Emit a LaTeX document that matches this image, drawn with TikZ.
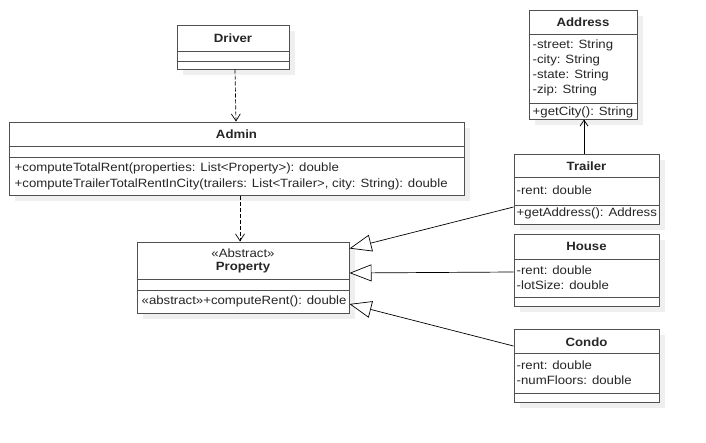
\documentclass[tikz,border=0pt]{standalone}
\usepackage{fontspec}
\setmainfont{Liberation Sans}[FakeStretch=1.1]
\usetikzlibrary{arrows.meta,calc,positioning,shadows}

\definecolor{umlline}{HTML}{505050}
\definecolor{umltext}{HTML}{262626}
\definecolor{umlshadow}{HTML}{EFEFEF}

\begin{document}
\begin{tikzpicture}[x=1pt,y=-1pt,
          every node/.style={font=\fontsize{12}{15}\selectfont,text=umltext},
          classbox/.style={draw=umlline,line width=1pt,rectangle,fill=white,inner sep=0pt,
            drop shadow={shadow xshift=6pt,shadow yshift=-6pt,fill=umlshadow,opacity=1}},
          title/.style={inner sep=0pt,font=\fontsize{12}{15}\selectfont\bfseries},
          members/.style={inner sep=0pt,anchor=north west,align=left},
          sep/.style={draw=umlline,line width=1pt},
          depend/.style={draw=black,line width=0.7pt,dash pattern=on 4pt off 2pt,-{Straight Barb[length=7pt,width=9pt]}},
          assoc/.style={draw=black,line width=0.7pt,-{Straight Barb[length=6pt,width=8pt]}},
          inherit/.style={draw=black,line width=0.7pt,-{Triangle[open,length=22pt,width=17pt,fill=white]}}]

  \useasboundingbox (0,0) rectangle (706,442);

  % classes
  \node[classbox,minimum width=112pt,minimum height=44pt] (driver) at (233,47) {};
  \node[classbox,minimum width=455pt,minimum height=73pt] (admin) at (236.5,158.5) {};
  \node[classbox,minimum width=212pt,minimum height=71pt] (property) at (243,277.5) {};
  \node[classbox,minimum width=108pt,minimum height=109pt] (address) at (583,64.5) {};
  \node[classbox,minimum width=145pt,minimum height=70pt] (trailer) at (586.5,189) {};
  \node[classbox,minimum width=145pt,minimum height=72pt] (house) at (586.5,270) {};
  \node[classbox,minimum width=145pt,minimum height=73pt] (condo) at (586.5,365.5) {};

  % compartments
  \draw[sep] (driver.west |- 0,51) -- (driver.east |- 0,51) (driver.west |- 0,61) -- (driver.east |- 0,61);
  \draw[sep] (admin.west |- 0,146) -- (admin.east |- 0,146) (admin.west |- 0,157) -- (admin.east |- 0,157);
  \draw[sep] (property.west |- 0,279) -- (property.east |- 0,279) (property.west |- 0,290) -- (property.east |- 0,290);
  \draw[sep] (address.west |- 0,34) -- (address.east |- 0,34) (address.west |- 0,103) -- (address.east |- 0,103);
  \draw[sep] (trailer.west |- 0,177) -- (trailer.east |- 0,177) (trailer.west |- 0,205) -- (trailer.east |- 0,205);
  \draw[sep] (house.west |- 0,259) -- (house.east |- 0,259) (house.west |- 0,297) -- (house.east |- 0,297);
  \draw[sep] (condo.west |- 0,353) -- (condo.east |- 0,353) (condo.west |- 0,393) -- (condo.east |- 0,393);

  % names
  \node[title] (driver name) at (233,38.5) {Driver};
  \node[title] (admin name) at (236.5,134.5) {Admin};
  \node[inner sep=0pt] (property stereo) at (243,253) {«Abstract»};
  \node[title] (property name) at (243,267.5) {Property};
  \node[title] (address name) at (583,22.5) {Address};
  \node[title] (trailer name) at (586.5,166.5) {Trailer};
  \node[title] (house name) at (586.5,246.5) {House};
  \node[title] (condo name) at (586.5,342) {Condo};

  % attributes and operations
  \node[members,font=\fontsize{12}{16}\selectfont] (admin ops) at ($(admin.west |- 0,163)+(6,0)$)
    {+computeTotalRent(properties: List<Property>): double\\
     +computeTrailerTotalRentInCity(trailers: List<Trailer>, city: String): double};
  \node[members] (property ops) at ($(property.west |- 0,296)+(5,0)$) {«abstract»+computeRent(): double};
  \node[members] (address attrs) at ($(address.west |- 0,40)+(4,0)$)
    {-street: String\\ -city: String\\ -state: String\\ -zip: String};
  \node[members] (address ops) at ($(address.west |- 0,107)+(4,0)$) {+getCity(): String};
  \node[members] (trailer attrs) at ($(trailer.west |- 0,185.5)+(3,0)$) {-rent: double};
  \node[members] (trailer ops) at ($(trailer.west |- 0,208)+(3,0)$) {+getAddress(): Address};
  \node[members] (house attrs) at ($(house.west |- 0,265.5)+(3,0)$) {-rent: double\\ -lotSize: double};
  \node[members] (condo attrs) at ($(condo.west |- 0,361)+(3,0)$) {-rent: double\\ -numFloors: double};

  % relations
  \draw[depend] ([xshift=2pt]driver.south) -- ([xshift=-0.5pt]admin.north);
  \draw[depend] ([xshift=3.5pt]admin.south) -- ([xshift=-3pt]property.north);
  \draw[assoc] ([xshift=-2.5pt]trailer.north) -- ([xshift=1pt]address.south);
  \draw[inherit] ([yshift=-18pt]trailer.west) -- ([yshift=29pt]property.east);
  \draw[inherit] ([yshift=-2pt]house.west) -- ([yshift=4.5pt]property.east);
  \draw[inherit] ([yshift=19.5pt]condo.west) -- ([yshift=-26.5pt]property.east);
\end{tikzpicture}
\end{document}
